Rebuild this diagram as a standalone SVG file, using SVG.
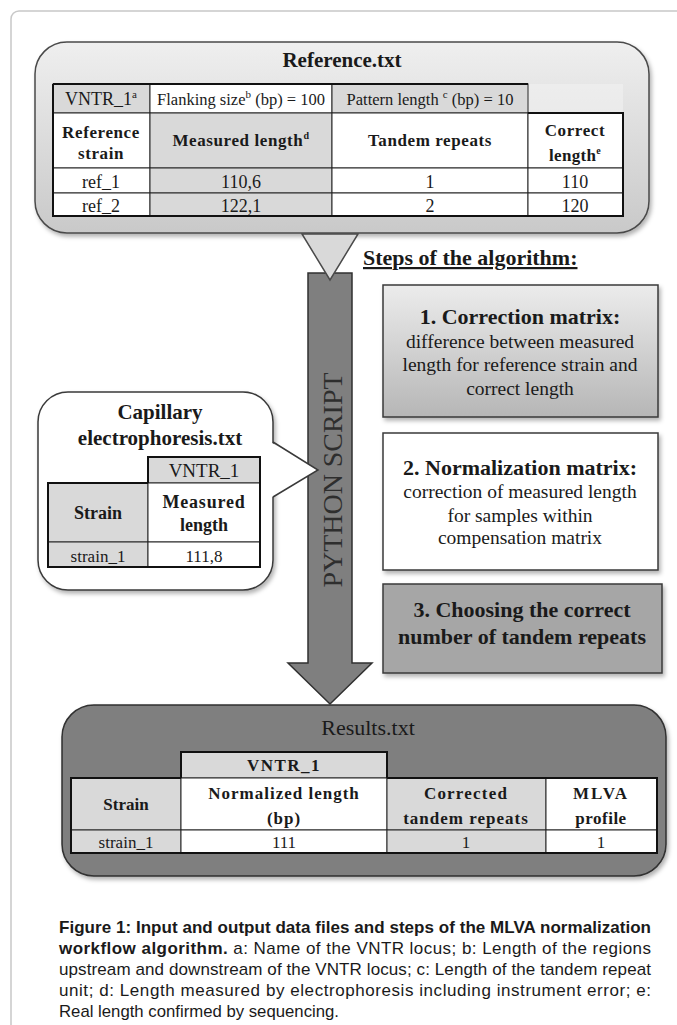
<svg xmlns="http://www.w3.org/2000/svg" width="677" height="1025" viewBox="0 0 677 1025">
<style>
  .serif { font-family: "Liberation Serif", "Times New Roman", serif; fill: #1a1a1a; }
  .b { font-weight: bold; }
  .mid { text-anchor: middle; }
  .cap { font-family: "Liberation Sans", Arial, sans-serif; font-size: 17px; fill: #1a1a1a; }
  .cell { stroke: #262626; stroke-width: 1; }
  .gray { fill: #d9d9d9; }
  .white { fill: #ffffff; }
  .outer { fill: none; stroke: #111; stroke-width: 2; }
  .t17 { font-size: 17px; }
  .t18 { font-size: 18px; }
</style>
<defs>
  <linearGradient id="gRef" x1="0" y1="0" x2="0" y2="1">
    <stop offset="0" stop-color="#efefef"/>
    <stop offset="1" stop-color="#c9c9c9"/>
  </linearGradient>
  <linearGradient id="gStep1" x1="0" y1="0" x2="0" y2="1">
    <stop offset="0" stop-color="#ececec"/>
    <stop offset="1" stop-color="#b6b6b6"/>
  </linearGradient>
  <filter id="sh" x="-10%" y="-10%" width="130%" height="130%">
    <feDropShadow dx="2" dy="3" stdDeviation="2" flood-color="#000" flood-opacity="0.3"/>
  </filter>
</defs>

<rect id="frame" x="11" y="11" width="720" height="1060" rx="8" fill="#fff" stroke="#c8c8c8" stroke-width="1.5"/>

<!-- Reference.txt -->
<g id="node-reference">
  <rect x="35" y="42" width="614" height="191" rx="32" fill="url(#gRef)" stroke="#4a4a4a" stroke-width="1.5" filter="url(#sh)"/>
  <text x="342" y="67" class="serif b mid" font-size="21">Reference.txt</text>
  <rect x="528" y="84" width="95" height="29" fill="#f3f3f3" opacity="0.5"/>
  <rect x="53" y="84" width="97" height="29" class="cell gray"/>
  <rect x="150" y="84" width="182" height="29" class="cell white"/>
  <rect x="332" y="84" width="196" height="29" class="cell gray"/>
  <rect x="53" y="113" width="97" height="55" class="cell white"/>
  <rect x="150" y="113" width="182" height="55" class="cell gray"/>
  <rect x="332" y="113" width="196" height="55" class="cell white"/>
  <rect x="528" y="113" width="95" height="55" class="cell white"/>
  <rect x="53" y="168" width="97" height="25" class="cell white"/>
  <rect x="150" y="168" width="182" height="25" class="cell gray"/>
  <rect x="332" y="168" width="196" height="25" class="cell white"/>
  <rect x="528" y="168" width="95" height="25" class="cell white"/>
  <rect x="53" y="193" width="97" height="23" class="cell white"/>
  <rect x="150" y="193" width="182" height="23" class="cell gray"/>
  <rect x="332" y="193" width="196" height="23" class="cell white"/>
  <rect x="528" y="193" width="95" height="23" class="cell white"/>
  <path d="M53 84 H528 M528 113 H623 V216 H53 V84" class="outer" stroke-width="1.5"/>
  <text x="101" y="105" class="serif mid t18">VNTR_1<tspan dy="-7" font-size="11">a</tspan></text>
  <text x="241" y="105" class="serif mid" font-size="16.5">Flanking size<tspan dy="-7" font-size="11">b</tspan><tspan dy="7"> (bp) = 100</tspan></text>
  <text x="430" y="105" class="serif mid" font-size="16.5">Pattern length <tspan dy="-7" font-size="11">c</tspan><tspan dy="7"> (bp) = 10</tspan></text>
  <text x="101" y="138" class="serif b mid t17" letter-spacing="0.6">Reference</text>
  <text x="101" y="159" class="serif b mid t17" letter-spacing="0.6">strain</text>
  <text x="241" y="146" class="serif b mid t17" letter-spacing="0.6">Measured length<tspan dy="-7" font-size="10">d</tspan></text>
  <text x="430" y="146" class="serif b mid t17" letter-spacing="0.6">Tandem repeats</text>
  <text x="575" y="136" class="serif b mid t17" letter-spacing="0.6">Correct</text>
  <text x="575" y="161" class="serif b mid t17" letter-spacing="0.3">length<tspan dy="-7" font-size="10">e</tspan></text>
  <text x="101" y="188" class="serif mid t18">ref_1</text>
  <text x="241" y="188" class="serif mid t18">110,6</text>
  <text x="430" y="188" class="serif mid t18">1</text>
  <text x="575" y="188" class="serif mid t18">110</text>
  <text x="101" y="212" class="serif mid t18">ref_2</text>
  <text x="241" y="212" class="serif mid t18">122,1</text>
  <text x="430" y="212" class="serif mid t18">2</text>
  <text x="575" y="212" class="serif mid t18">120</text>
</g>

<!-- Capillary electrophoresis.txt -->
<g id="node-capillary">
  <rect x="38" y="392" width="235" height="198" rx="30" fill="#fff" stroke="#3a3a3a" stroke-width="1.5" filter="url(#sh)"/>
  <text x="160" y="419" class="serif b mid" font-size="21">Capillary</text>
  <text x="160" y="445" class="serif b mid" font-size="21">electrophoresis.txt</text>
  <rect x="148" y="457" width="112" height="26" class="cell gray"/>
  <rect x="48" y="483" width="100" height="59" class="cell gray"/>
  <rect x="148" y="483" width="112" height="59" class="cell white"/>
  <rect x="48" y="542" width="100" height="25" class="cell gray"/>
  <rect x="148" y="542" width="112" height="25" class="cell white"/>
  <path d="M148 483 V457 H260 V567 H48 V483 H148" class="outer" stroke-width="1.6"/>
  <text x="204" y="477" class="serif mid" font-size="19">VNTR_1</text>
  <text x="98" y="519" class="serif b mid t18">Strain</text>
  <text x="204" y="508" class="serif b mid t18" letter-spacing="0.8">Measured</text>
  <text x="204" y="531" class="serif b mid t18">length</text>
  <text x="98" y="562" class="serif mid t17">strain_1</text>
  <text x="204" y="562" class="serif mid t17">111,8</text>
</g>

<!-- Steps -->
<g id="node-steps-title">
  <text x="363" y="265" class="serif b" font-size="22" text-decoration="underline">Steps of the algorithm:</text>
</g>
<g id="node-step1">
  <rect x="383" y="285" width="275" height="132" fill="url(#gStep1)" stroke="#3a3a3a" stroke-width="1.5" filter="url(#sh)"/>
  <text x="520" y="324" class="serif b mid" font-size="22">1. Correction matrix:</text>
  <text x="520" y="348" class="serif mid" font-size="19.5">difference  between measured</text>
  <text x="520" y="371" class="serif mid" font-size="19.5">length for reference  strain and</text>
  <text x="520" y="395" class="serif mid" font-size="19.5">correct length</text>
</g>
<g id="node-step2">
  <rect x="383" y="433" width="275" height="137" fill="#fff" stroke="#3a3a3a" stroke-width="1.5" filter="url(#sh)"/>
  <text x="520" y="475" class="serif b mid" font-size="22">2. Normalization matrix:</text>
  <text x="520" y="498" class="serif mid" font-size="19.5">correction of measured length</text>
  <text x="520" y="522" class="serif mid" font-size="19.5">for samples within</text>
  <text x="520" y="544" class="serif mid" font-size="19.5">compensation matrix</text>
</g>
<g id="node-step3">
  <rect x="383" y="584" width="279" height="89" fill="#a6a6a6" stroke="#3a3a3a" stroke-width="1.5" filter="url(#sh)"/>
  <text x="522" y="617" class="serif b mid" font-size="22">3. Choosing the correct</text>
  <text x="522" y="644" class="serif b mid" font-size="22">number of tandem repeats</text>
</g>

<!-- Results.txt -->
<g id="node-results">
  <rect x="62" y="705" width="604" height="171" rx="32" fill="#7f7f7f" stroke="#303030" stroke-width="1.5" filter="url(#sh)"/>
  <text x="368" y="735" class="serif mid" font-size="22">Results.txt</text>
  <rect x="181" y="752" width="206" height="26" class="cell gray"/>
  <rect x="71" y="778" width="110" height="52" class="cell gray"/>
  <rect x="181" y="778" width="206" height="52" class="cell white"/>
  <rect x="387" y="778" width="159" height="52" class="cell gray"/>
  <rect x="546" y="778" width="111" height="52" class="cell white"/>
  <rect x="71" y="830" width="110" height="23" class="cell gray"/>
  <rect x="181" y="830" width="206" height="23" class="cell white"/>
  <rect x="387" y="830" width="159" height="23" class="cell gray"/>
  <rect x="546" y="830" width="111" height="23" class="cell white"/>
  <path d="M181 778 V752 H387 V778 M387 778 H657 V853 H71 V778 H181" class="outer" stroke-width="1.6"/>
  <text x="284" y="771" class="serif b mid t17" letter-spacing="1.5">VNTR_1</text>
  <text x="126" y="810" class="serif b mid t17">Strain</text>
  <text x="284" y="799" class="serif b mid t17" letter-spacing="1">Normalized length</text>
  <text x="284" y="824" class="serif b mid t17" letter-spacing="1">(bp)</text>
  <text x="466" y="799" class="serif b mid t17" letter-spacing="1.2">Corrected</text>
  <text x="466" y="824" class="serif b mid t17" letter-spacing="1">tandem repeats</text>
  <text x="601" y="799" class="serif b mid t17" letter-spacing="2">MLVA</text>
  <text x="601" y="824" class="serif b mid t17" letter-spacing="0.5">profile</text>
  <text x="126" y="848" class="serif mid t17">strain_1</text>
  <text x="284" y="848" class="serif mid t17">111</text>
  <text x="466" y="848" class="serif mid t17">1</text>
  <text x="601" y="848" class="serif mid t17">1</text>
</g>

<!-- Connectors -->
<g id="connectors">
  <path id="python-arrow" d="M308 273 H352 V663 H372 L330 704 L288 663 H308 Z" fill="#7f7f7f" stroke="#303030" stroke-width="1.5"/>
  <text transform="translate(342,480) rotate(-90)" class="mid" font-family="Liberation Serif, 'Times New Roman', serif" font-size="28" fill="#2e2e2e" textLength="215" lengthAdjust="spacingAndGlyphs">PYTHON SCRIPT</text>
  <polygon points="302,234 358,234 330,280" fill="#d9d9d9" stroke="#4a4a4a" stroke-width="1.5" stroke-linejoin="miter"/>
  <polygon points="272,443 318,470 272,497" fill="#fff" stroke="none"/>
  <polyline points="273,442 318,470 273,497" fill="none" stroke="#3a3a3a" stroke-width="1.5"/>
</g>

<!-- Caption -->
<g id="caption">
  <text x="59" y="933" class="cap" font-weight="bold" font-size="16.8" textLength="592" lengthAdjust="spacing">Figure 1: Input and output data files and steps of the MLVA normalization</text>
  <text x="59" y="954" class="cap" textLength="592" lengthAdjust="spacing"><tspan font-weight="bold">workflow algorithm.</tspan> a: Name of the VNTR locus; b: Length of the regions</text>
  <text x="59" y="975" class="cap" textLength="592" lengthAdjust="spacing">upstream and downstream of the VNTR locus; c: Length of the tandem repeat</text>
  <text x="59" y="996" class="cap" textLength="592" lengthAdjust="spacing">unit; d: Length measured by electrophoresis including instrument error; e:</text>
  <text x="59" y="1017" class="cap" textLength="280" lengthAdjust="spacingAndGlyphs">Real length confirmed by sequencing.</text>
</g>
</svg>
